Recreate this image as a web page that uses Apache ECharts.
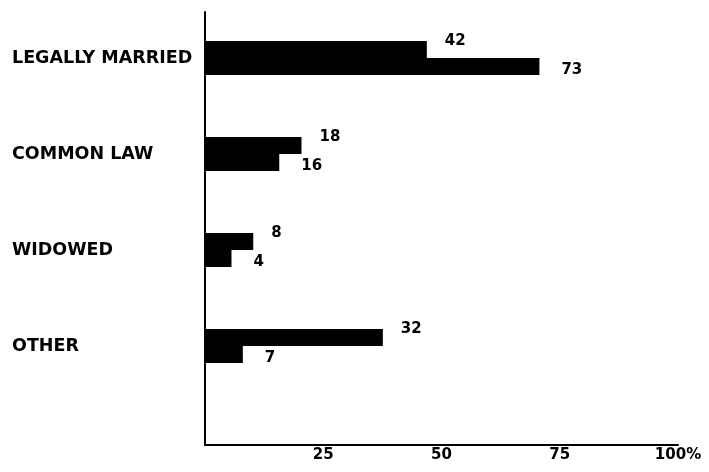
<!DOCTYPE html>
<html>
<head>
<meta charset="utf-8">
<script src="https://cdn.jsdelivr.net/npm/echarts@6/dist/echarts.min.js"></script>
<style>
html,body{margin:0;padding:0;background:#fff;}
#chart{width:709px;height:472px;}
</style>
</head>
<body>
<div id="chart"></div>
<script>
// Categories (top to bottom)
var categories = ['LEGALLY MARRIED', 'COMMON LAW', 'WIDOWED', 'OTHER'];
// Printed values next to the bars
var printedUpper = [42, 18, 8, 32];
var printedLower = [73, 16, 4, 7];
// Bar lengths as drawn in the picture (percent scale)
var drawnUpper = [46.9, 20.4, 10.2, 37.6];
var drawnLower = [70.7, 15.7, 5.6, 8.0];
// Axis ticks
var xTicks = [25, 50, 75, 100];

var FONT = 'DejaVu Sans';
var chart = echarts.init(document.getElementById('chart'));

function barData(lengths, printed) {
  return lengths.map(function (v, i) { return { value: v, printed: printed[i] }; });
}

chart.setOption({
  backgroundColor: '#ffffff',
  animation: false,
  grid: [
    { left: 205, right: 31, top: 10, height: 384 },
    { left: 205, right: 31, top: 12, bottom: 27 }
  ],
  xAxis: [
    { gridIndex: 0, type: 'value', min: 0, max: 100, show: false },
    {
      gridIndex: 1, type: 'value', min: 0, max: 100, interval: 25,
      axisLine: { show: true, lineStyle: { color: '#000', width: 2 } },
      axisTick: { show: false },
      splitLine: { show: false },
      axisLabel: {
        margin: 3,
        color: '#000',
        fontFamily: FONT,
        fontWeight: 'bold',
        fontSize: 15,
        formatter: function (v) {
          if (xTicks.indexOf(v) < 0) return '';
          return v === 100 ? v + '%' : String(v);
        }
      }
    }
  ],
  yAxis: [
    {
      gridIndex: 0, type: 'category', inverse: true, data: categories,
      axisLine: { show: false },
      axisTick: { show: false },
      axisLabel: {
        align: 'left',
        margin: 193,
        color: '#000',
        fontFamily: FONT,
        fontWeight: 'bold',
        fontSize: 17.5,
        padding: [0, 0, 8, 0]
      }
    },
    {
      gridIndex: 1, type: 'value', min: 0, max: 1,
      axisLine: { show: true, lineStyle: { color: '#000', width: 2 } },
      axisTick: { show: false },
      axisLabel: { show: false },
      splitLine: { show: false }
    }
  ],
  series: [
    {
      type: 'bar', xAxisIndex: 0, yAxisIndex: 0,
      data: barData(drawnUpper, printedUpper),
      barWidth: 17, barGap: '0%',
      itemStyle: { color: '#000' },
      label: {
        show: true, position: 'right', distance: 5, offset: [13, -8],
        color: '#000', fontFamily: FONT, fontWeight: 'bold', fontSize: 15,
        formatter: function (p) { return String(p.data.printed); }
      }
    },
    {
      type: 'bar', xAxisIndex: 0, yAxisIndex: 0,
      data: barData(drawnLower, printedLower),
      barWidth: 17, barGap: '0%',
      itemStyle: { color: '#000' },
      label: {
        show: true, position: 'right', distance: 5, offset: [17, 4],
        color: '#000', fontFamily: FONT, fontWeight: 'bold', fontSize: 15,
        formatter: function (p) { return String(p.data.printed); }
      }
    }
  ]
});
</script>
</body>
</html>
